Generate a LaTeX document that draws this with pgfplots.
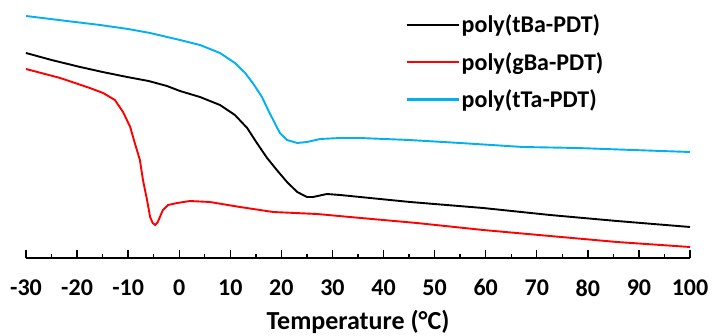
\documentclass[border=0pt]{standalone}
\usepackage{pgfplots}
\pgfplotsset{compat=1.18}
\usepackage{fontspec}
\setmainfont{Carlito}
\definecolor{cyanline}{RGB}{0,176,240}
\definecolor{redline}{RGB}{255,0,0}

\begin{document}
\begin{tikzpicture}
\begin{axis}[
  scale only axis,
  width=664bp, height=258bp,
  xmin=-30, xmax=100, ymin=-258, ymax=0,
  enlargelimits=false,
  axis x line=bottom, axis y line=none,
  axis line style={line width=1.6bp, -},
  xtick={-30,-20,...,100},
  minor x tick num=1,
  tick align=inside,
  major tick length=8bp, minor tick length=4bp,
  every tick/.style={line width=1.4bp, black},
  /pgf/number format/assume math mode=true,
  xticklabel style={font=\fontsize{24bp}{28bp}\selectfont\bfseries, yshift=-18bp},
  xlabel={Temperature (°C)},
  xlabel style={font=\fontsize{26bp}{30bp}\selectfont\bfseries,
    at={(axis description cs:0.5,0)}, anchor=north, yshift=-49bp},
  legend cell align=left,
  legend style={draw=none, fill=none, at={(0.571,0.95)}, anchor=north west,
    font=\fontsize{24bp}{28bp}\selectfont\bfseries, row sep=14bp,
    inner sep=0pt},
  legend image code/.code={\draw[#1, line width=2.4bp] (0bp,0bp) -- (52bp,0bp);},
  clip=false,
]
\coordinate (origin) at (rel axis cs:0,0);
% poly(tBa-PDT)
\addplot[black, line width=1.9bp] coordinates {
(-30,-53) (-25,-60) (-19.4,-67) (-15,-72) (-10.2,-77) (-6,-81) (-2.4,-86)
(0.15,-91) (4.06,-97) (7.98,-105) (10.9,-115) (13.3,-128) (15.2,-143)
(17.2,-158) (19.1,-170) (21.1,-182) (23.1,-192) (25.0,-197) (26.2,-197)
(28.9,-194) (31.5,-195) (35.4,-197) (45.2,-202) (59.5,-208)
(72.6,-215) (85.7,-221) (100,-227)};
\addlegendentry{poly(tBa-PDT)}
% poly(gBa-PDT)
\addplot[redline, line width=1.9bp] coordinates {
(-30,-69) (-23.3,-78) (-17.5,-88) (-14.9,-93) (-12.6,-100) (-11.0,-112)
(-9.6,-127) (-8.7,-143) (-7.7,-160) (-7.1,-180) (-6.3,-200) (-5.7,-217)
(-5.2,-223) (-4.7,-225) (-4.2,-222) (-3.2,-210) (-2.2,-205) (-0.4,-203)
(2.1,-201) (6.0,-202) (11.9,-207) (18.4,-212) (27.0,-214) (33.4,-217)
(46.5,-223) (59.5,-230) (72.6,-236) (85.7,-242) (100,-247)};
\addlegendentry{poly(gBa-PDT)}
% poly(tTa-PDT)
\addplot[cyanline, line width=1.9bp] coordinates {
(-30,-16) (-22,-21) (-15.5,-25) (-10,-29) (-5.7,-33) (0.15,-40) (4.06,-45)
(7.98,-53) (10.9,-63) (12.9,-73) (14.4,-83) (16.2,-97) (17.4,-110)
(18.7,-123) (19.7,-133) (21.1,-140) (23.1,-143) (25.0,-142) (27.6,-139)
(31.5,-138) (35.4,-138) (45,-140) (55,-143) (67.3,-147) (78,-148)
(88.8,-150) (100,-152)};
\addlegendentry{poly(tTa-PDT)}
\end{axis}
% fixed page frame around the plot area
\pgfresetboundingbox
\path (origin) ++(-26bp,-78bp) rectangle ++(712bp,336bp);
\end{tikzpicture}
\end{document}
